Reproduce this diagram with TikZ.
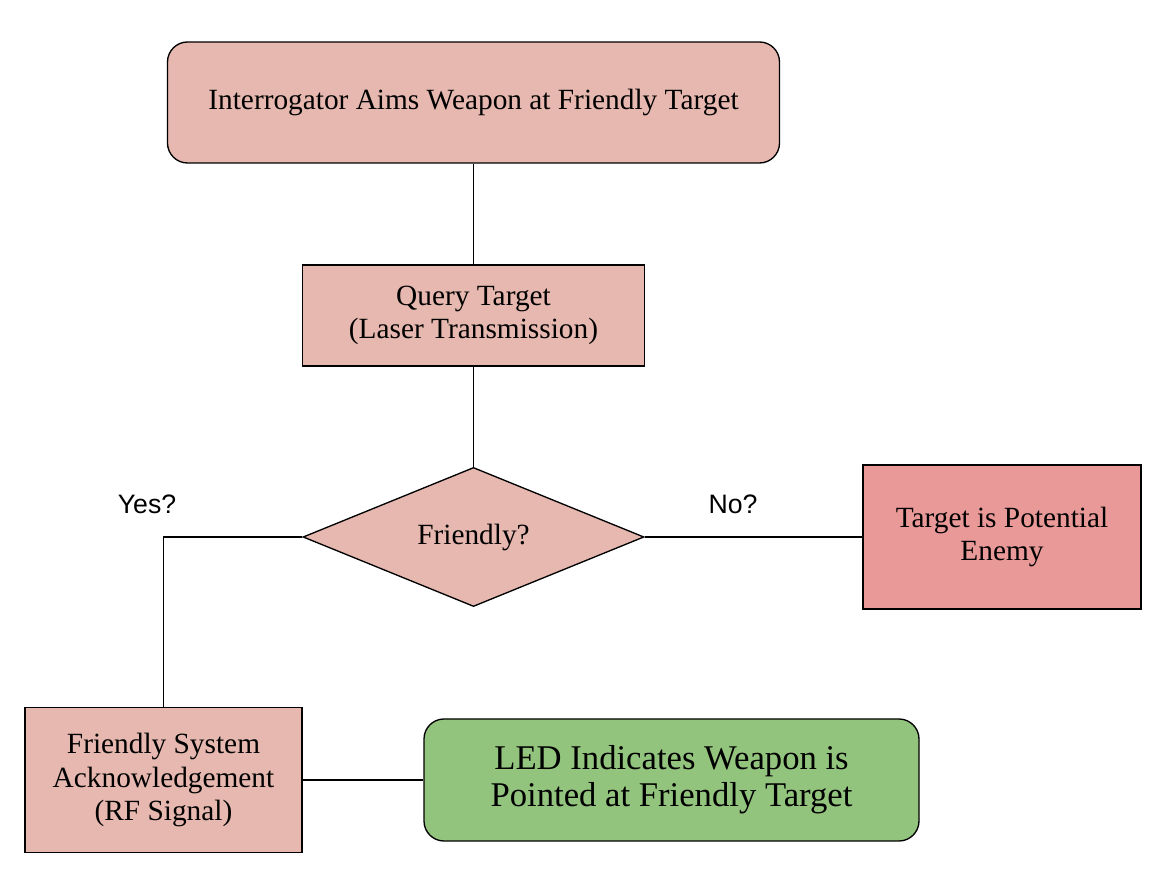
\documentclass[tikz,border=0pt]{standalone}
\usepackage{fontspec}
\setmainfont{Liberation Serif}
\newfontfamily\labelsans{Liberation Sans}
\usetikzlibrary{positioning, shapes.geometric}

\definecolor{boxpink}{HTML}{E6B8AF}
\definecolor{enemyred}{HTML}{EA9999}
\definecolor{ledgreen}{HTML}{93C47D}

\begin{document}
\begin{tikzpicture}[
    x=0.75pt, y=0.75pt,
    line width=1pt,
    box/.style={draw, fill=boxpink, align=center, inner sep=4pt, font=\fontsize{22}{25}\selectfont},
    roundbox/.style={box, rounded corners=15pt},
    decision/.style={draw, fill=boxpink, diamond, inner sep=0pt, font=\fontsize{22}{25}\selectfont},
    answer_font/.style={font=\labelsans\fontsize{20}{24}\selectfont}
]
    \useasboundingbox (0,0) rectangle (1168,882);

    % Components
    % Start
    \node[roundbox, minimum width=459pt, minimum height=90.75pt] (aim) at (473.5,779.5) {Interrogator Aims Weapon at Friendly Target};

    % Query
    \node[box, minimum width=256.5pt, minimum height=75.75pt] (query) at (473.5,566.5) {Query Target\\(Laser Transmission)};

    % Decision
    \node[decision, minimum width=255.75pt, minimum height=102.75pt] (friendly) at (473.5,345) {Friendly?};

    % Outcomes
    \node[box, fill=enemyred, minimum width=208.5pt, minimum height=108pt] (enemy) at (1002,345) {Target is Potential\\Enemy};
    \node[box, minimum width=207.75pt, minimum height=108.75pt] (ack) at (163.5,102) {Friendly System\\Acknowledgement\\(RF Signal)};
    \node[roundbox, fill=ledgreen, minimum width=371.25pt, minimum height=91.5pt, font=\fontsize{26}{28}\selectfont] (led) at (671.5,102) {LED Indicates Weapon is\\Pointed at Friendly Target};

    % Answers
    \node[answer_font] (yes) at (147,378) {Yes?};
    \node[answer_font] (no) at (733,378) {No?};

    % Connections
    \draw (aim.south) -- (query.north);
    \draw (query.south) -- (friendly.north);
    \draw (friendly.east) -- (enemy.west);
    \draw (friendly.west) -| (ack.north);
    \draw (ack.east) -- (led.west);

\end{tikzpicture}
\end{document}
